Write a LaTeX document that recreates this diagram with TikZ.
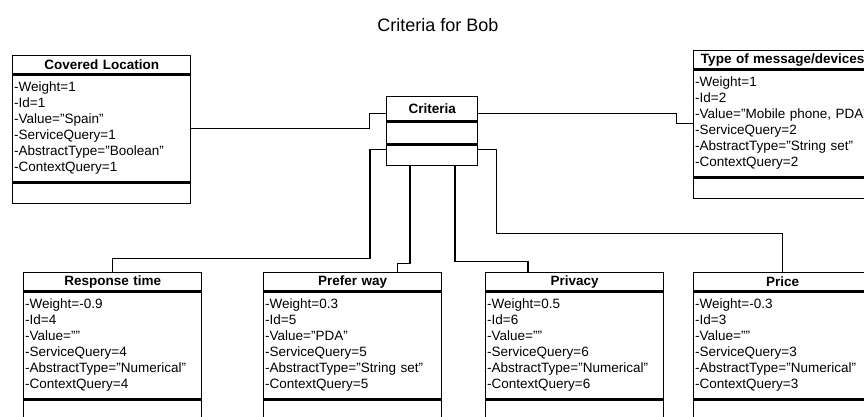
\documentclass[tikz,border=0pt]{standalone}
\usepackage{fontspec}
\setmainfont{Liberation Sans}
\usetikzlibrary{positioning}

\begin{document}
\begin{tikzpicture}[
    x=1pt, y=-1pt,
    classhead/.style={
        rectangle,
        draw=black,
        fill=white,
        line width=1.3pt,
        text width=175pt,
        inner xsep=1.5pt,
        inner ysep=0pt,
        minimum height=18pt,
        align=center,
        font=\fontsize{13.5}{15}\selectfont\bfseries
    },
    classattr/.style={classhead, minimum height=107pt, align=left, font=\fontsize{13.5}{16}\selectfont},
    classfoot/.style={classhead, minimum height=20pt},
    critbox/.style={text width=88pt},
    link/.style={draw=black, line width=1.1pt}
]
    \useasboundingbox (0,0) rectangle (864,417);
    \clip (0,0) rectangle (864,417);

    \node [font=\fontsize{18}{20}\selectfont] (title) at (438,25) {Criteria for Bob};

    \node [classhead, critbox, minimum height=24pt, anchor=north west] (crithead) at (386,96) {Criteria};
    \node [classfoot, critbox, minimum height=22pt, below=0pt of crithead] (critattr) {};
    \node [classfoot, critbox, below=0pt of critattr] (critfoot) {};

    \node [classhead, anchor=north west] (covhead) at (12,55) {Covered Location};
    \node [classattr, below=0pt of covhead] (covattr) {-Weight=1\\-Id=1\\-Value="Spain"\\-ServiceQuery=1\\-AbstractType="Boolean"\\-ContextQuery=1};
    \node [classfoot, below=0pt of covattr] (covfoot) {};

    \node [classhead, anchor=north west] (typhead) at (693,50) {Type of message/devices};
    \node [classattr, below=0pt of typhead] (typattr) {-Weight=1\\-Id=2\\-Value="Mobile phone, PDA"\\-ServiceQuery=2\\-AbstractType="String set"\\-ContextQuery=2};
    \node [classfoot, below=0pt of typattr] (typfoot) {};

    \node [classhead, anchor=north west] (resphead) at (23,272) {Response time};
    \node [classattr, below=0pt of resphead] (respattr) {-Weight=-0.9\\-Id=4\\-Value=""\\-ServiceQuery=4\\-AbstractType="Numerical"\\-ContextQuery=4};
    \node [classfoot, below=0pt of respattr] (respfoot) {};

    \node [classhead, anchor=north west] (prefhead) at (263,272) {Prefer way};
    \node [classattr, below=0pt of prefhead] (prefattr) {-Weight=0.3\\-Id=5\\-Value="PDA"\\-ServiceQuery=5\\-AbstractType="String set"\\-ContextQuery=5};
    \node [classfoot, below=0pt of prefattr] (preffoot) {};

    \node [classhead, anchor=north west] (privhead) at (485,272) {Privacy};
    \node [classattr, below=0pt of privhead] (privattr) {-Weight=0.5\\-Id=6\\-Value=""\\-ServiceQuery=6\\-AbstractType="Numerical"\\-ContextQuery=6};
    \node [classfoot, below=0pt of privattr] (privfoot) {};

    \node [classhead, anchor=north west] (pricehead) at (693,272) {Price};
    \node [classattr, below=0pt of pricehead] (priceattr) {-Weight=-0.3\\-Id=3\\-Value=""\\-ServiceQuery=3\\-AbstractType="Numerical"\\-ContextQuery=3};
    \node [classfoot, below=0pt of priceattr] (pricefoot) {};

    \path [link] (covattr.east) -- ++(178,0) |- ([yshift=-5pt]crithead.west);
    \path [link] ([yshift=-5pt]crithead.east) -- ++(198,0) |- (typattr.west);
    \path [link] ([yshift=6pt]critfoot.west) -- ++(-16,0) -- ++(0,109) -| (resphead.north);
    \path [link] ([xshift=24pt]critfoot.south west) -- ++(0,98) -| ([xshift=45pt]prefhead.north);
    \path [link] ([xshift=69pt]critfoot.south west) -- ++(0,96) -| ([xshift=43pt]privhead.north west);
    \path [link] ([yshift=6pt]critfoot.east) -- ++(18,0) -- ++(0,84) -| (pricehead.north);
\end{tikzpicture}
\end{document}
